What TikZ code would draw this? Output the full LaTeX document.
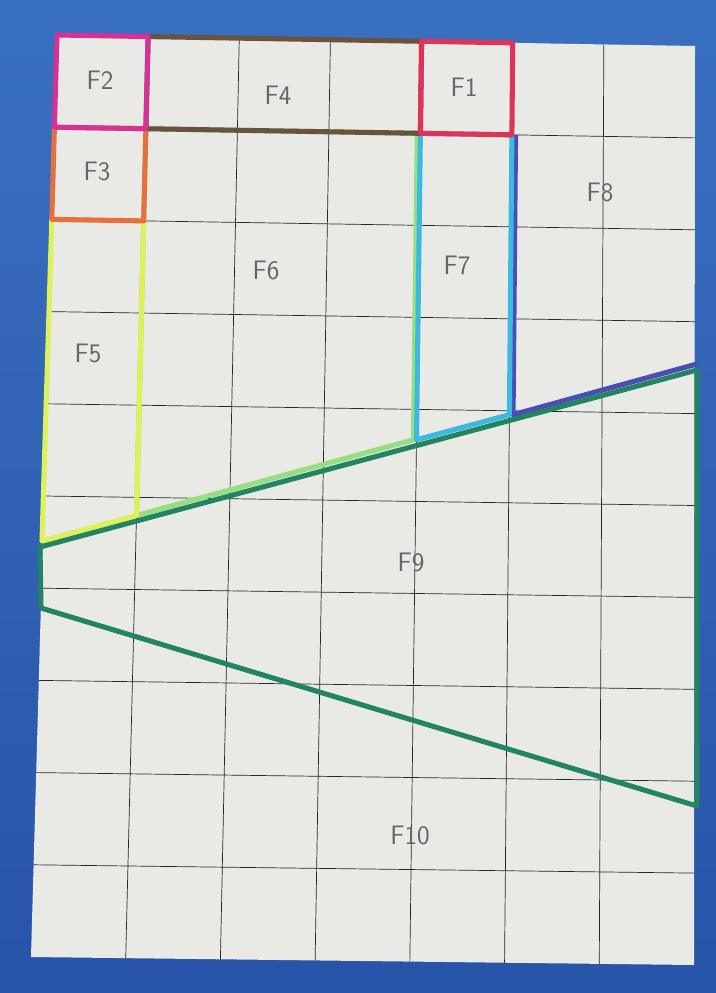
\documentclass[tikz,border=0pt]{standalone}
\usetikzlibrary{calc}
\definecolor{boardtop}{RGB}{58,112,192}
\definecolor{boardbot}{RGB}{40,84,168}
\definecolor{paper}{RGB}{233,233,229}
\definecolor{f1col}{RGB}{222,52,88}
\definecolor{f2col}{RGB}{214,50,150}
\definecolor{f3col}{RGB}{228,112,64}
\definecolor{f4col}{RGB}{105,82,62}
\definecolor{f5col}{RGB}{222,240,90}
\definecolor{f6col}{RGB}{150,222,130}
\definecolor{f7col}{RGB}{60,185,225}
\definecolor{f8col}{RGB}{72,78,180}
\definecolor{f9col}{RGB}{34,132,96}
\tikzset{
	grid line/.style={black!85, line width=0.5pt},
	region/.style={line width=3.6pt, line join=round},
	tag/.style={text=black!60, font=\sffamily\fontsize{19}{19}\selectfont}
}
\begin{document}
\begin{tikzpicture}[x=0.025cm, y=-0.025cm]
				\useasboundingbox (0,0) rectangle (716,993);
				\shade[top color=boardtop, bottom color=boardbot] (0,0) rectangle (716,993);
				\path 
				(57,35) coordinate (TL)
				(695,46) coordinate (TR)
				(31,957) coordinate (BL)
				(694,965) coordinate (BR);
				\fill[paper] (TL)--(TR)--(BR)--(BL)--cycle;
				\foreach \i in {0,...,7}
				\foreach \j in {0,...,10}
				\coordinate (g\i-\j) at ($($(TL)!\j/10!(BL)$)!\i/7!($(TR)!\j/10!(BR)$)$);
				\foreach \i in {1,...,6}
				\draw[grid line] (g\i-0)--(g\i-10);
				\foreach \j in {1,...,9}
				\draw[grid line] (g0-\j)--(g7-\j);
				% the two slanted cuts
				\path 
				(40,547) coordinate (U1)
				(697,370) coordinate (U2)
				(41,608) coordinate (L1)
				(697,806) coordinate (L2)
				(42,541) coordinate (V1)
				(697,364) coordinate (V2);
				\path (intersection of V1--V2 and g1-0--g1-10) coordinate (s1)
				(intersection of V1--V2 and g4-0--g4-10) coordinate (s4)
				(intersection of V1--V2 and g5-0--g5-10) coordinate (s5);
				\draw[region, f6col] (g1-1)--([xshift=-2.2pt]g4-1)--([xshift=-2.2pt]s4)--(s1)--cycle;
				\draw[region, f8col] ([xshift=2.6pt]g5-1)--([xshift=2.6pt]s5)--(V2);
				\draw[region, f7col] (g4-1)--(s4)--(s5)--(g5-1)--cycle;
				\draw[region, f5col] (g0-2)--(g1-2)--(s1)--(V1)--cycle;
				\draw[region, f3col] (g0-1)--(g1-1)--(g1-2)--(g0-2)--cycle;
				\draw[region, f4col] (g1-0)--(g4-0)--(g4-1)--(g1-1)--cycle;
				\draw[region, f2col] (g0-0)--(g1-0)--(g1-1)--(g0-1)--cycle;
				\draw[region, f1col] (g4-0)--(g5-0)--(g5-1)--(g4-1)--cycle;
				\draw[region, f9col] (U1)--(U2)--(L2)--(L1)--cycle;
				\foreach \n/\x/\y in {F1/464/87, F2/100/80, F3/97/171, F4/278/95, F5/88/353, F6/266/270, F7/457/265, F8/600/192, F9/411/562, F10/410/835}
				\node[tag] (\n) at (\x,\y) {\n};
			\end{tikzpicture}
\end{document}
